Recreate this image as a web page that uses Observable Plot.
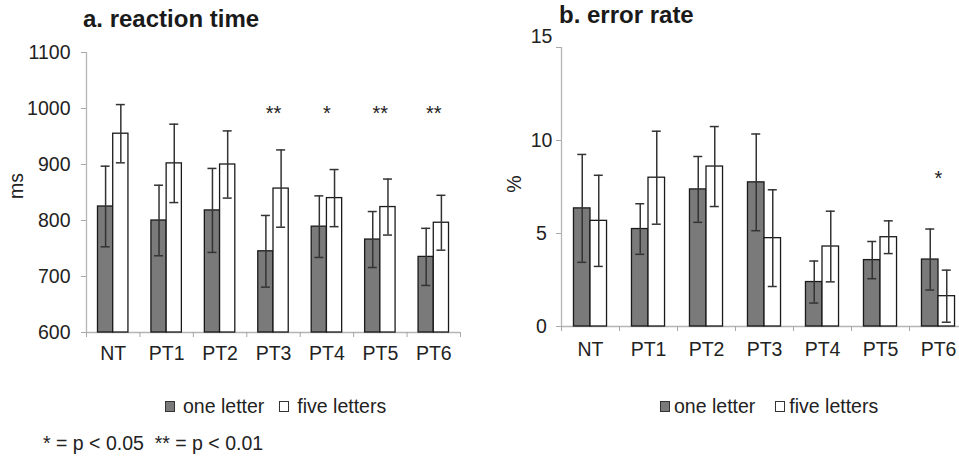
<!DOCTYPE html>
<html>
<head>
<meta charset="utf-8">
<script src="https://cdn.jsdelivr.net/npm/d3@7"></script>
<script src="https://cdn.jsdelivr.net/npm/@observablehq/plot@0.6"></script>
<style>
  html, body { margin: 0; padding: 0; background: #fff; overflow: hidden; }
  #wrap { position: relative; width: 959px; height: 457px; overflow: hidden;
          font-family: "Liberation Sans", Arial, Helvetica, sans-serif; color: #222; }
  .panel { position: absolute; top: 0; }
  .title { position: absolute; font-weight: bold; font-size: 24px; line-height: 24px; color: #1a1a1a; white-space: nowrap; }
  .ylab { position: absolute; font-size: 19.5px; line-height: 20px; transform: translate(-50%, -50%) rotate(-90deg); white-space: nowrap; }
  .legend { position: absolute; display: flex; align-items: center; font-size: 19.5px; line-height: 20px; white-space: nowrap; }
  .sw { display: inline-block; width: 8px; height: 9px; border: 1.3px solid #333; }
  .note { position: absolute; font-size: 19.5px; line-height: 20px; white-space: nowrap; }
</style>
</head>
<body>
<div id="wrap"></div>
<script>
// ---------- data ----------
const categories = ["NT", "PT1", "PT2", "PT3", "PT4", "PT5", "PT6"];
const seriesNames = ["one letter", "five letters"];
const seriesColors = ["#7a7a7a", "#ffffff"];

// a. reaction time (ms)
const rtOne      = [825, 800, 818, 745, 789, 766, 735];
const rtOneErr   = [72, 63, 75, 64, 55, 50, 51];
const rtFive     = [955, 902, 900, 857, 840, 824, 796];
const rtFiveErr  = [52, 70, 60, 69, 51, 50, 49];
const rtSig      = ["", "", "", "**", "*", "**", "**"];
const rtSigLevel = 1000;
const rtTicks    = [600, 700, 800, 900, 1000, 1100];

// b. error rate (%)
const erOne      = [6.35, 5.24, 7.37, 7.75, 2.39, 3.57, 3.6];
const erOneErr   = [2.9, 1.36, 1.77, 2.6, 1.13, 1.0, 1.64];
const erFive     = [5.68, 8.0, 8.6, 4.75, 4.3, 4.8, 1.63];
const erFiveErr  = [2.45, 2.5, 2.15, 2.6, 1.9, 0.88, 1.4];
const erSig      = ["", "", "", "", "", "", "*"];
const erSigLevel = 8.2;
const erTicks    = [0, 5, 10, 15];

const footnote = "* = p < 0.05\u00a0\u00a0** = p < 0.01";

// ---------- helpers ----------
const wrap = document.getElementById("wrap");
function el(cls, text, css) {
  const d = document.createElement("div");
  d.className = cls;
  if (text != null) d.textContent = text;
  Object.assign(d.style, css);
  wrap.appendChild(d);
  return d;
}

const FONT = '"Liberation Sans", Arial, Helvetica, sans-serif';
const TICK_FS = 19.5;

function makePanel(cfg) {
  const {one, oneErr, five, fiveErr, sig, sigLevel, ticks, width, height,
         mt, mb, ml, mr, yPad, yAnchor, xPad, topShift} = cfg;
  const bw = (width - ml - mr) / categories.length;
  const w = 0.285;              // bar width in band units
  const cap = 4.5 / bw;          // half cap width in band units
  const rows = [];
  categories.forEach((c, i) => {
    [[one, oneErr], [five, fiveErr]].forEach(([vals, errs], s) => {
      const x1 = i + 0.5 + (s - 1) * w;
      rows.push({cat: c, s, x1, x2: x1 + w, xc: x1 + w / 2,
                 value: vals[i], lo: vals[i] - errs[i], hi: vals[i] + errs[i]});
    });
  });
  const sigRows = categories.map((c, i) => ({x: i + 0.5, text: sig[i]})).filter(d => d.text);
  const y0 = ticks[0];
  const yMax = ticks[ticks.length - 1];
  const mainTicks = topShift ? ticks.slice(0, -1) : ticks;
  const fmt = d => String(d);

  const marks = [
    Plot.ruleY([y0], {stroke: "#b5b5b5", strokeWidth: 1.3}),
    Plot.ruleX([0], {stroke: "#b5b5b5", strokeWidth: 1.3}),
    Plot.axisX({ticks: d3.range(0, categories.length + 1), tickSize: 5, text: null,
                stroke: "#a8a8a8", label: null}),
    Plot.axisX({ticks: categories.map((c, i) => i + 0.5), tickSize: 0, tickPadding: xPad,
                tickFormat: v => categories[Math.floor(v)], fill: "#222", label: null,
                fontSize: TICK_FS, fontFamily: FONT}),
    Plot.axisY({ticks: ticks, tickSize: 5, text: null, stroke: "#a8a8a8", label: null}),
    Plot.axisY({ticks: mainTicks, tickSize: 5, tickPadding: yPad, textAnchor: yAnchor,
                tickFormat: fmt, stroke: "none", fill: "#222", label: null,
                fontSize: TICK_FS, fontFamily: FONT}),
    Plot.rect(rows, {x1: "x1", x2: "x2", y1: () => y0, y2: "value",
                     fill: d => seriesColors[d.s], stroke: "#1a1a1a", strokeWidth: 1.3}),
    Plot.ruleX(rows, {x: "xc", y1: "lo", y2: "hi", stroke: "#333", strokeWidth: 1.5}),
    Plot.ruleY(rows, {y: "hi", x1: d => d.xc - cap, x2: d => d.xc + cap, stroke: "#333", strokeWidth: 1.5}),
    Plot.ruleY(rows, {y: "lo", x1: d => d.xc - cap, x2: d => d.xc + cap, stroke: "#333", strokeWidth: 1.5}),
    Plot.text(sigRows, {x: "x", y: () => sigLevel, text: "text", fontSize: 20, dy: 5, fill: "#222", fontFamily: FONT})
  ];
  if (topShift) {
    marks.push(Plot.axisY({ticks: [yMax], tickSize: 5, tickPadding: yPad, textAnchor: yAnchor,
                           tickFormat: fmt, stroke: "none", fill: "#222", label: null, dy: topShift,
                           fontSize: TICK_FS, fontFamily: FONT}));
  }
  return Plot.plot({
    width, height,
    marginTop: mt, marginBottom: mb, marginLeft: ml, marginRight: mr,
    x: {type: "linear", domain: [0, categories.length], axis: null},
    y: {domain: [y0, yMax], axis: null},
    style: {fontFamily: FONT, fontSize: TICK_FS + "px",
            background: "transparent", overflow: "visible"},
    marks
  });
}

// ---------- panel a ----------
const pa = makePanel({one: rtOne, oneErr: rtOneErr, five: rtFive, fiveErr: rtFiveErr,
  sig: rtSig, sigLevel: rtSigLevel, ticks: rtTicks,
  width: 480, height: 380, mt: 52, mb: 48, ml: 86, mr: 20,
  yPad: 11, yAnchor: "end", xPad: 14});
pa.classList.add("panel");
pa.style.left = "0px";
wrap.appendChild(pa);

// ---------- panel b ----------
const pb = makePanel({one: erOne, oneErr: erOneErr, five: erFive, fiveErr: erFiveErr,
  sig: erSig, sigLevel: erSigLevel, ticks: erTicks,
  width: 487, height: 380, mt: 47, mb: 54, ml: 81, mr: 0,
  yPad: 15, yAnchor: "middle", xPad: 16, topShift: -11});
pb.classList.add("panel");
pb.style.left = "480px";
wrap.appendChild(pb);

// ---------- titles & labels ----------
el("title", "a. reaction time", {left: "83px", top: "7px"});
el("title", "b. error rate", {left: "559px", top: "3px"});
el("ylab", "ms", {left: "16px", top: "186px"});
el("ylab", "%", {left: "514px", top: "184px"});

// ---------- legends ----------
function legend(left, gapText, gapItem) {
  const lg = el("legend", null, {left: left + "px", top: "396px"});
  seriesNames.forEach((name, s) => {
    const sw = document.createElement("span");
    sw.className = "sw";
    sw.style.background = seriesColors[s];
    sw.style.marginRight = gapText + "px";
    if (s > 0) sw.style.marginLeft = gapItem + "px";
    lg.appendChild(sw);
    const t = document.createElement("span");
    t.textContent = name;
    lg.appendChild(t);
  });
}
legend(165, 8, 15);
legend(660, 4, 20);

el("note", footnote, {left: "43px", top: "433px"});
</script>
</body>
</html>
